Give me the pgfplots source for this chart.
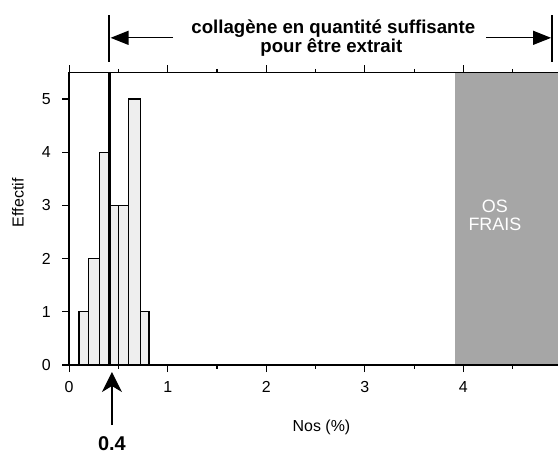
\documentclass[border=0pt]{standalone}
\usepackage{pgfplots}
\pgfplotsset{compat=1.18}
\usepackage{fontspec}
\setmainfont{Liberation Sans}
\usetikzlibrary{arrows.meta}

\definecolor{barfill}{HTML}{EEEEEE}
\definecolor{zone}{HTML}{A6A6A6}

\begin{document}
\begin{tikzpicture}
\begin{axis}[
  x=98.53bp, y=53.2bp,
  xmin=0, xmax=5, ymin=0, ymax=5.5,
  clip=false,
  axis on top,
  axis line style={line width=1.4bp},
  xtick={0,1,2,3,4,5}, ytick={0,1,2,3,4,5},
  minor x tick num=1,
  tick align=outside,
  xtick pos=both, xticklabel pos=lower,
  ytick pos=left,
  major tick length=7bp, minor tick length=3.5bp,
  every tick/.style={line width=1.2bp, black},
  ticklabel style={font=\fontsize{16}{18}\selectfont},
  xticklabel style={yshift=-6bp},
  yticklabel style={xshift=-8bp},
  /pgf/number format/assume math mode=true,
]
% fresh bone zone
\addplot[fill=zone, draw=none] coordinates {(3.915,0) (3.915,5.5) (5,5.5) (5,0)} \closedcycle;
\node[white, align=center, font=\fontsize{18}{18}\selectfont] at (axis cs:4.32,2.82) {OS\\FRAIS};

% histogram
\addplot[ybar interval, fill=barfill, draw=black, line width=1.1bp]
  coordinates {(0.10,1) (0.20,2) (0.31,4) (0.41,3) (0.50,3) (0.60,5) (0.72,1) (0.81,0)};

% threshold
\addplot[black, line width=3.3bp] coordinates {(0.407,0) (0.407,5.5)};

% annotations above
\draw[line width=1.2bp] (axis cs:0.404,5.70) -- (axis cs:0.404,6.58);
\draw[line width=1.2bp] (axis cs:4.90,5.70) -- (axis cs:4.90,6.58);
\draw[line width=1.2bp, -{Triangle[length=18bp,width=14bp]}] (axis cs:1.054,6.15) -- (axis cs:0.42,6.15);
\draw[line width=1.2bp, -{Triangle[length=18bp,width=14bp]}] (axis cs:4.23,6.15) -- (axis cs:4.89,6.15);
\node[anchor=base, font=\fontsize{18.7}{22}\selectfont\bfseries] at (axis cs:2.68,6.24) {collagène en quantité suffisante};
\node[anchor=base, font=\fontsize{18.7}{22}\selectfont\bfseries] at (axis cs:2.66,5.865) {pour être extrait};

% arrow below
\draw[line width=1.3bp, -{Stealth[length=20bp,width=20bp,inset=6bp]}] (axis cs:0.434,-1.13) -- (axis cs:0.434,-0.13);
\node[font=\fontsize{20}{22}\selectfont\bfseries] at (axis cs:0.434,-1.48) {0.4};

% axis labels
\node[font=\fontsize{16}{18}\selectfont] at (axis cs:2.56,-1.165) {Nos (\%)};
\node[rotate=90, font=\fontsize{16}{18}\selectfont] at (axis cs:-0.52,3.05) {Effectif};

\coordinate (BL) at (axis cs:-0.702,-1.673);
\coordinate (TR) at (axis cs:4.96,6.861);
\end{axis}
\pgfresetboundingbox
\path[use as bounding box] (BL) rectangle (TR);
\end{tikzpicture}
\end{document}
